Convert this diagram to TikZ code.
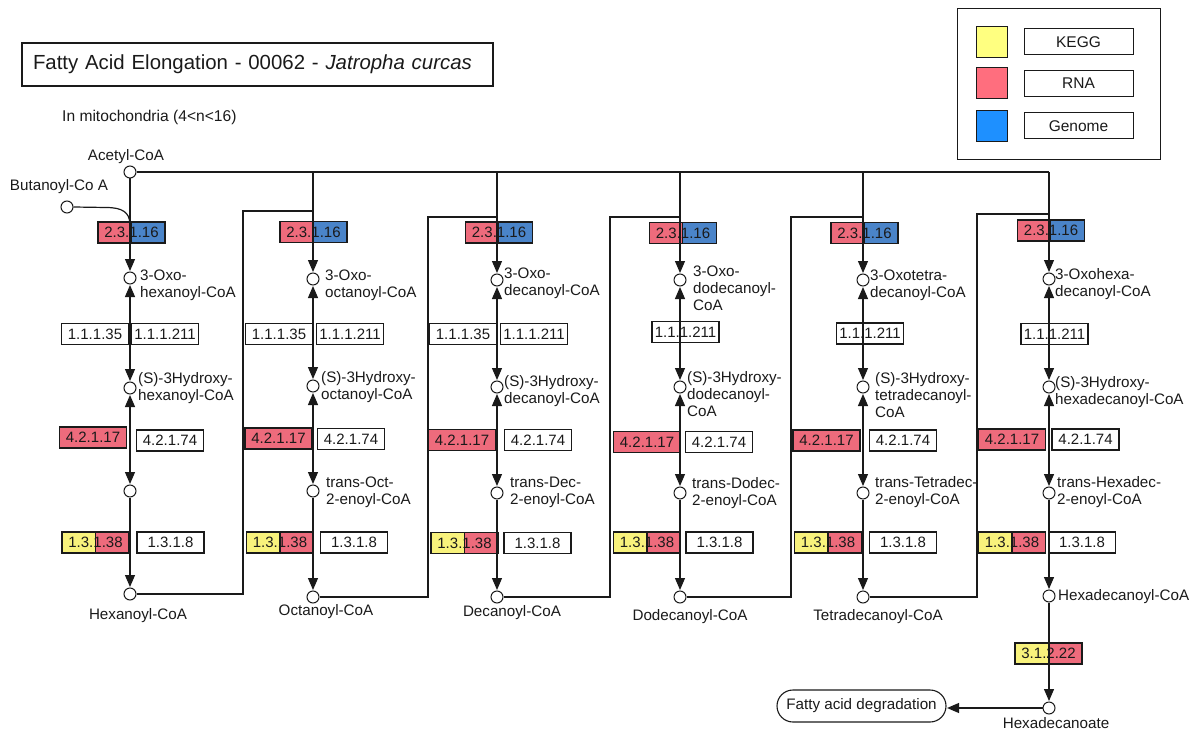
\documentclass[tikz,border=0pt]{standalone}
\usepackage{fontspec}
\setmainfont{Liberation Sans}
\usetikzlibrary{arrows.meta}

\definecolor{ink}{HTML}{1A1A1A}
\definecolor{ecred}{HTML}{EE6B7C}
\definecolor{ecblue}{HTML}{4A84C9}
\definecolor{ecyellow}{HTML}{F8F27C}
\definecolor{lgyellow}{HTML}{FFFF80}
\definecolor{lgred}{HTML}{FF6E7E}
\definecolor{lgblue}{HTML}{1E90FF}

\tikzset{
  every node/.style={font=\fontsize{15.2}{17}\selectfont, text=ink},
  met/.style={circle, draw=ink, fill=white, line width=1pt, minimum size=12pt, inner sep=0pt},
  lbl/.style={inner sep=0pt, align=left, anchor=west},
  clbl/.style={inner sep=0pt, align=center},
  ec/.style={rectangle, draw=ink, line width=1.1pt, minimum width=67pt, minimum height=21pt, inner sep=0pt, fill=white,
             font=\fontsize{15}{17}\selectfont},
  ecred/.style={ec, fill=ecred},
  twotone/.style 2 args={ec, path picture={
      \fill[#1] (path picture bounding box.south west) rectangle (path picture bounding box.north);
      \fill[#2] (path picture bounding box.north) rectangle (path picture bounding box.south east);}},
  conn/.style={line width=1.2pt, draw=ink},
  fwd/.style={conn, -{Triangle[length=12pt,width=10pt]}, shorten >=0.5pt},
  rev/.style={conn, {Triangle[length=12pt,width=10pt]}-{Triangle[length=12pt,width=10pt]}, shorten >=0.5pt, shorten <=0.5pt},
  legsq/.style={rectangle, draw=ink, line width=1pt, minimum size=31pt, inner sep=0pt},
  legbox/.style={rectangle, draw=ink, line width=1pt, minimum width=109pt, minimum height=26pt, inner sep=0pt, font=\fontsize{15.5}{18}\selectfont},
}

\begin{document}
\begin{tikzpicture}[x=1pt, y=-1pt]
\useasboundingbox (0,0) rectangle (1198,735);

% ---- title and legend ----
\node[draw=ink, line width=2pt, minimum height=43pt, text width=449pt, inner xsep=11pt, inner ysep=0pt, align=left,
      font=\fontsize{20.4}{24}\selectfont] (title) at (257.5,64.5)
  {Fatty Acid Elongation - 00062 - \textit{Jatropha curcas}};
\node[lbl, font=\fontsize{15.6}{18}\selectfont] (mito) at (62,117) {In mitochondria (4<n<16)};

\draw[ink, line width=1pt] (957,9) rectangle (1160,160);
\node[legsq, fill=lgyellow] (sqk) at (991.5,42) {};
\node[legsq, fill=lgred] (sqr) at (991.5,83) {};
\node[legsq, fill=lgblue] (sqg) at (991.5,126.5) {};
\node[legbox] (lk) at (1078.5,42) {KEGG};
\node[legbox] (lr) at (1078.5,83.5) {RNA};
\node[legbox] (lg) at (1078.5,126) {Genome};

% ---- enzyme boxes ----
% 2.3.1.16
\node[twotone={ecred}{ecblue}] (a1) at (131.5,232.5) {2.3.1.16};
\node[twotone={ecred}{ecblue}] (a2) at (313.5,232) {2.3.1.16};
\node[twotone={ecred}{ecblue}] (a3) at (499,232.5) {2.3.1.16};
\node[twotone={ecred}{ecblue}] (a4) at (683,233) {2.3.1.16};
\node[twotone={ecred}{ecblue}] (a5) at (864.5,233) {2.3.1.16};
\node[twotone={ecred}{ecblue}] (a6) at (1051,230.5) {2.3.1.16};
% 1.1.1.35 / 1.1.1.211
\node[ec] (b1) at (95,334) {1.1.1.35};
\node[ec] (b2) at (279,334) {1.1.1.35};
\node[ec] (b3) at (463,334) {1.1.1.35};
\node[ec] (c1) at (165,334) {1.1.1.211};
\node[ec] (c2) at (350,334) {1.1.1.211};
\node[ec] (c3) at (534,334) {1.1.1.211};
\node[ec] (c4) at (685.5,332) {1.1.1.211};
\node[ec] (c5) at (870,333.5) {1.1.1.211};
\node[ec] (c6) at (1054.5,334) {1.1.1.211};
% 4.2.1.17 / 4.2.1.74
\node[ecred] (d1) at (93,437.5) {4.2.1.17};
\node[ecred] (d2) at (278.5,438.5) {4.2.1.17};
\node[ecred] (d3) at (462,440) {4.2.1.17};
\node[ecred] (d4) at (647,442) {4.2.1.17};
\node[ecred] (d5) at (826.5,440.5) {4.2.1.17};
\node[ecred] (d6) at (1012,439.5) {4.2.1.17};
\node[ec] (e1) at (170,440.5) {4.2.1.74};
\node[ec] (e2) at (351,439) {4.2.1.74};
\node[ec] (e3) at (538,440) {4.2.1.74};
\node[ec] (e4) at (719,442) {4.2.1.74};
\node[ec] (e5) at (903,440.5) {4.2.1.74};
\node[ec] (e6) at (1085.5,439.5) {4.2.1.74};
% 1.3.1.38 / 1.3.1.8
\node[twotone={ecyellow}{ecred}] (f1) at (95.5,542.5) {1.3.1.38};
\node[twotone={ecyellow}{ecred}] (f2) at (280,542.5) {1.3.1.38};
\node[twotone={ecyellow}{ecred}] (f3) at (464.5,543) {1.3.1.38};
\node[twotone={ecyellow}{ecred}] (f4) at (647,542.5) {1.3.1.38};
\node[twotone={ecyellow}{ecred}] (f5) at (828,542.5) {1.3.1.38};
\node[twotone={ecyellow}{ecred}] (f6) at (1012,542.5) {1.3.1.38};
\node[ec] (g1) at (170.5,542.5) {1.3.1.8};
\node[ec] (g2) at (354,542.5) {1.3.1.8};
\node[ec] (g3) at (537.5,543) {1.3.1.8};
\node[ec] (g4) at (719.5,542.5) {1.3.1.8};
\node[ec] (g5) at (903,542.5) {1.3.1.8};
\node[ec] (g6) at (1082,542.5) {1.3.1.8};
% thioesterase
\node[twotone={ecyellow}{ecred}] (h6) at (1048.5,653.5) {3.1.2.22};

% ---- metabolites ----
\node[met] (acetyl) at (130,172) {};
\node[met] (buta) at (67,207) {};
\node[clbl] (acetyllbl) at (126,157) {Acetyl-CoA};
\node[clbl] (butalbl) at (59,187) {Butanoyl-Co A};

\node[met] (oxo1) at (130,278) {};
\node[met] (oxo2) at (313,279) {};
\node[met] (oxo3) at (497,280) {};
\node[met] (oxo4) at (680,280) {};
\node[met] (oxo5) at (863,280) {};
\node[met] (oxo6) at (1049,279) {};

\node[met] (hyd1) at (130,388) {};
\node[met] (hyd2) at (313,386) {};
\node[met] (hyd3) at (497,387) {};
\node[met] (hyd4) at (680,387) {};
\node[met] (hyd5) at (863,387) {};
\node[met] (hyd6) at (1049,387) {};

\node[met] (eno1) at (130,491) {};
\node[met] (eno2) at (313,491) {};
\node[met] (eno3) at (497,493) {};
\node[met] (eno4) at (680,493) {};
\node[met] (eno5) at (863,493) {};
\node[met] (eno6) at (1049,493) {};

\node[met] (acyl1) at (130,594) {};
\node[met] (acyl2) at (313,597) {};
\node[met] (acyl3) at (497,597) {};
\node[met] (acyl4) at (680,597) {};
\node[met] (acyl5) at (863,597) {};
\node[met] (acyl6) at (1049,596) {};
\node[met] (hexa) at (1049,708) {};

\node[draw=ink, line width=1.1pt, rounded corners=16pt, minimum width=169pt, minimum height=32pt, inner sep=0pt]
  (fad) at (861.5,706) {Fatty acid degradation};

% ---- metabolite labels ----
\node[lbl] at (140,285) {3-Oxo-\\hexanoyl-CoA};
\node[lbl] at (325,285) {3-Oxo-\\octanoyl-CoA};
\node[lbl] at (504,283) {3-Oxo-\\decanoyl-CoA};
\node[lbl] at (693,288) {3-Oxo-\\dodecanoyl-\\CoA};
\node[lbl] at (870,285) {3-Oxotetra-\\decanoyl-CoA};
\node[lbl] at (1055,284) {3-Oxohexa-\\decanoyl-CoA};

\node[lbl] at (138,388) {(S)-3Hydroxy-\\hexanoyl-CoA};
\node[lbl] at (321,387) {(S)-3Hydroxy-\\octanoyl-CoA};
\node[lbl] at (504,391) {(S)-3Hydroxy-\\decanoyl-CoA};
\node[lbl] at (687,394) {(S)-3Hydroxy-\\dodecanoyl-\\CoA};
\node[lbl] at (875,395) {(S)-3Hydroxy-\\tetradecanoyl-\\CoA};
\node[lbl] at (1055,392) {(S)-3Hydroxy-\\hexadecanoyl-CoA};

\node[lbl] at (326,492) {trans-Oct-\\2-enoyl-CoA};
\node[lbl] at (510,492) {trans-Dec-\\2-enoyl-CoA};
\node[lbl] at (692,493) {trans-Dodec-\\2-enoyl-CoA};
\node[lbl] at (875,492) {trans-Tetradec-\\2-enoyl-CoA};
\node[lbl] at (1057,492) {trans-Hexadec-\\2-enoyl-CoA};

\node[clbl] at (138,616) {Hexanoyl-CoA};
\node[clbl] at (326,612) {Octanoyl-CoA};
\node[clbl] at (512,613) {Decanoyl-CoA};
\node[clbl] at (690,617) {Dodecanoyl-CoA};
\node[clbl] at (878,617) {Tetradecanoyl-CoA};
\node[lbl] at (1058,597) {Hexadecanoyl-CoA};
\node[clbl] at (1056,723) {Hexadecanoate};

% ---- connectors ----
% acetyl-CoA feed
\draw[conn] (acetyl.east) -- (acetyl -| oxo6);
\draw[fwd] (acetyl) -- (oxo1);
\foreach \i in {2,...,6} {\draw[fwd] (acetyl -| oxo\i) -- (oxo\i);}
% butanoyl-CoA joins the first condensation
\coordinate (bj) at (130,224);
\draw[conn] (buta.east) -- (106,207.5) .. controls (122,207.5) and (129.5,212) .. (bj);

% reduction, dehydration, reduction
\foreach \i in {1,...,6} {
  \draw[rev] (oxo\i) -- (hyd\i);
  \draw[rev] (hyd\i) -- (eno\i);
  \draw[fwd] (eno\i) -- (acyl\i);
}

% acyl-CoA fed back into the next cycle
\coordinate (k1) at (243,211);
\coordinate (k2) at (428,217);
\coordinate (k3) at (610,217);
\coordinate (k4) at (791,217);
\coordinate (k5) at (977,214);
\draw[conn] (acyl1.east) -| (k1) -- (k1 -| oxo2);
\draw[conn] (acyl2.east) -| (k2) -- (k2 -| oxo3);
\draw[conn] (acyl3.east) -| (k3) -- (k3 -| oxo4);
\draw[conn] (acyl4.east) -| (k4) -- (k4 -| oxo5);
\draw[conn] (acyl5.east) -| (k5) -- (k5 -| oxo6);

% hydrolysis and exit
\draw[fwd] (acyl6) -- (hexa);
\draw[fwd] (hexa.west) -- (hexa -| fad.east);
\end{tikzpicture}
\end{document}
